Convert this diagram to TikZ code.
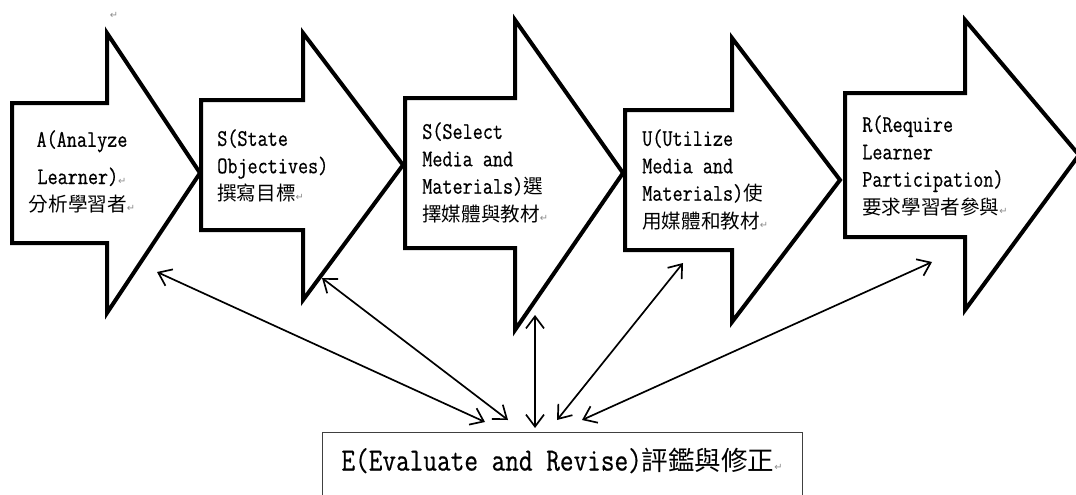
\documentclass[tikz,border=0pt]{standalone}
\usepackage{fontspec}
\usepackage{xcolor}
\usepackage{tikz}
\usetikzlibrary{arrows.meta}
\newfontfamily\stepfont[FakeStretch=0.82,FakeBold=0.5]{Latin Modern Mono}
\newfontfamily\cjk[Scale=0.82]{Noto Sans CJK TC}
\newfontfamily\retfont{DejaVu Sans}
\newcommand{\retmark}{{\retfont\fontsize{7}{7}\selectfont\color{black!45}↵}}

\begin{document}
\begin{tikzpicture}[x=0.25mm,y=-0.25mm,
  arrowshape/.style={draw=black,line width=1mm,fill=white,line join=miter},
  steptext/.style={font=\stepfont\fontsize{17}{19.5}\selectfont,align=left,inner sep=0pt,anchor=north west},
  link/.style={line width=1.2pt,{Straight Barb[length=3mm,width=4.5mm]}-{Straight Barb[length=3mm,width=4.5mm]}}]
\useasboundingbox (0,0) rectangle (1076,494);
\clip (0,0) rectangle (1076,494);
% the five ASSURE steps
\draw[arrowshape] (12,103) -- (107,103) -- (107,33) -- (200,173) -- (107,313) -- (107,243) -- (12,243) -- cycle;
\draw[arrowshape] (201,100) -- (303,100) -- (303,33) -- (403,165) -- (303,300) -- (303,230) -- (201,230) -- cycle;
\draw[arrowshape] (405,98) -- (515,98) -- (515,20) -- (623,173) -- (515,330) -- (515,248) -- (405,248) -- cycle;
\draw[arrowshape] (625,110) -- (732,110) -- (732,38) -- (840,180) -- (732,322) -- (732,250) -- (625,250) -- cycle;
\draw[arrowshape] (845,93) -- (965,93) -- (965,20) -- (1079,155) -- (965,310) -- (965,237) -- (845,237) -- cycle;
\node[inner sep=0pt] (topmark) at (114,15) {\retmark};
\node[steptext,anchor=north,align=center] (analyze) at (82,130) {A(Analyze\\[7pt]Learner)\retmark\\{\cjk 分析學習者}\retmark};
\node[steptext] (state) at (217,129) {S(State\\Objectives)\\{\cjk 撰寫目標}\retmark};
\node[steptext] (select) at (422,122) {S(Select\\Media and\\Materials){\cjk 選}\\{\cjk 擇媒體與教材}\retmark};
\node[steptext] (utilize) at (642,129) {U(Utilize\\Media and\\Materials){\cjk 使}\\{\cjk 用媒體和教材}\retmark};
\node[steptext] (require) at (862,115) {R(Require\\Learner\\Participation)\\{\cjk 要求學習者參與}\retmark};
% evaluation box
\node[draw=black!75,line width=0.8pt,anchor=north west,inner xsep=3.5mm,inner ysep=0pt,
  text height=9.5mm,text depth=15mm,minimum width=120mm,
  font=\stepfont\fontsize{23}{27}\selectfont] (eval) at (321.5,432) {E(Evaluate and Revise){\cjk 評鑑與修正}\retmark};
% links back to every step
\coordinate (a1) at (157,272); \coordinate (e1) at (485,422);
\coordinate (a2) at (322,278); \coordinate (e2) at (508,420);
\coordinate (a3) at (535,315); \coordinate (e3) at (535,428);
\coordinate (a4) at (683,263); \coordinate (e4) at (557,420);
\coordinate (a5) at (932,262); \coordinate (e5) at (582,420);
\foreach \i in {1,...,5}
  \draw[link] (e\i) -- (a\i);
\end{tikzpicture}
\end{document}
